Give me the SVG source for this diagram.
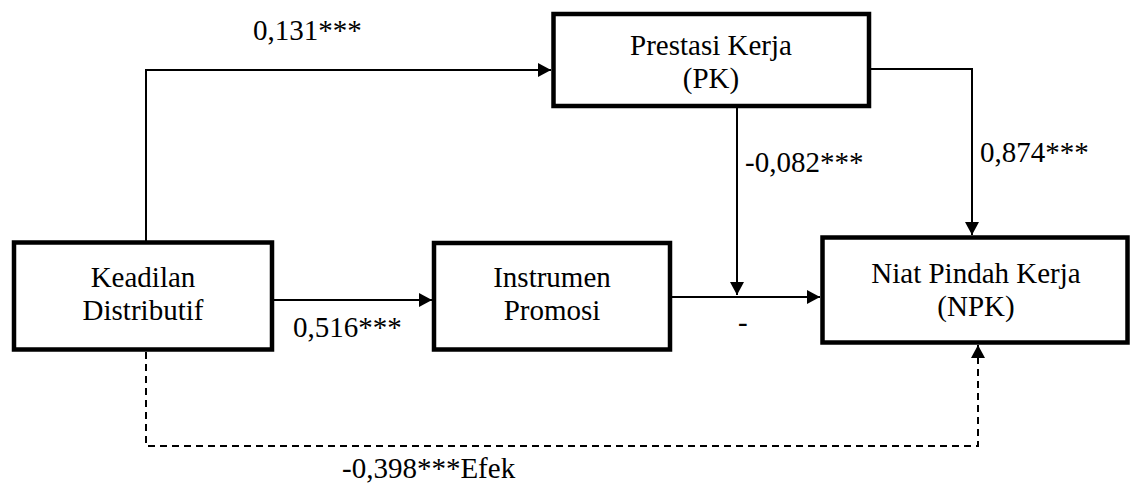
<svg xmlns="http://www.w3.org/2000/svg" width="1133" height="490" viewBox="0 0 1133 490">
<defs>
<style>
.box{fill:#fff;stroke:#000;stroke-width:4.5}
.t{font-family:"Liberation Serif","Times New Roman",serif;font-size:29px;fill:#000}
.c{text-anchor:middle}
.ln{fill:none;stroke:#000;stroke-width:2}
.dash{stroke-dasharray:7 5}
</style>
<marker id="ah" markerWidth="14" markerHeight="14" viewBox="0 0 14 14" refX="13" refY="7" orient="auto" markerUnits="userSpaceOnUse">
<path d="M0,0 L13,7 L0,14 Z" fill="#000"/>
</marker>
</defs>
<rect width="1133" height="490" fill="#fff"/>
<g id="connectors">
<path class="ln" d="M146,241 V70 H551" marker-end="url(#ah)"/>
<path class="ln" d="M274,300 H432" marker-end="url(#ah)"/>
<path class="ln" d="M672,297 H820" marker-end="url(#ah)"/>
<path class="ln" d="M737,108 V295" marker-end="url(#ah)"/>
<path class="ln" d="M871,69 H972 V235" marker-end="url(#ah)"/>
<path class="ln dash" d="M146,352 V446 H978 V345" marker-end="url(#ah)"/>
<text class="t" x="253" y="40">0,131***</text>
<text class="t" x="293" y="337">0,516***</text>
<text class="t" x="980" y="162">0,874***</text>
<text class="t" x="745" y="172">-0,082***</text>
<text class="t" x="738" y="332">-</text>
<text class="t" x="342" y="478">-0,398***Efek</text>
</g>
<g id="keadilan">
<rect class="box" x="14" y="242.5" width="258" height="107"/>
<text class="t c" x="143" y="287">Keadilan</text>
<text class="t c" x="143" y="320">Distributif</text>
</g>
<g id="prestasi">
<rect class="box" x="553.5" y="14" width="315.5" height="92"/>
<text class="t c" x="711" y="55">Prestasi Kerja</text>
<text class="t c" x="711" y="88">(PK)</text>
</g>
<g id="instrumen">
<rect class="box" x="434" y="243" width="236" height="106.5"/>
<text class="t c" x="552" y="287">Instrumen</text>
<text class="t c" x="552" y="320">Promosi</text>
</g>
<g id="npk">
<rect class="box" x="822.5" y="237.5" width="305" height="105"/>
<text class="t c" x="976" y="283">Niat Pindah Kerja</text>
<text class="t c" x="976" y="316">(NPK)</text>
</g>
</svg>
